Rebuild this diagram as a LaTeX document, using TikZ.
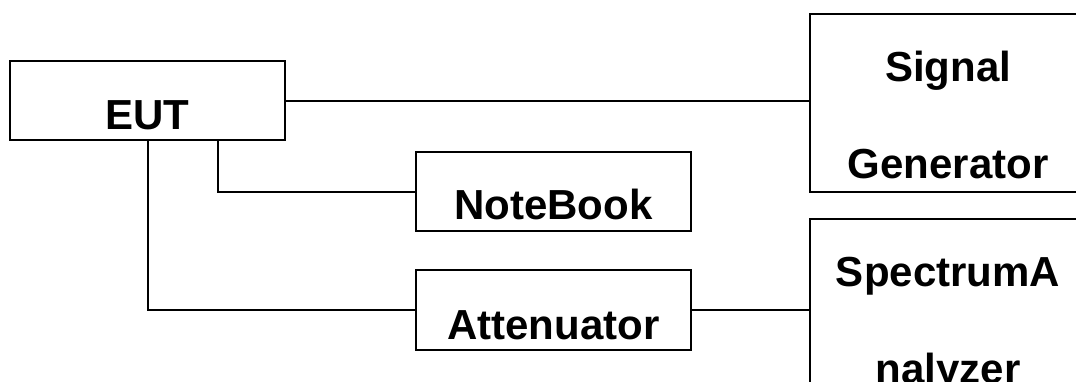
\documentclass[tikz,border=0pt]{standalone}
\usepackage{fontspec}
\setmainfont{Liberation Sans}
\usetikzlibrary{positioning}
\tikzset{
    unit/.style={draw, line width=2pt, rectangle, inner sep=0pt, anchor=north west,
        minimum width=275pt, text height=68pt, text depth=11pt,
        font=\fontsize{42}{97}\selectfont\bfseries},
    device/.style={unit, minimum width=276pt, align=center, text height=164pt, text depth=14pt},
    cable/.style={line width=2pt} }

\begin{document}
\begin{tikzpicture}[x=1pt, y=-1pt]
			\useasboundingbox (0,0) rectangle (1076,381);
			\clip (0,0) rectangle (1076,381);
			\node[unit] (EUT) at (9,60) {EUT};
			\node[unit, text height=67pt, text depth=12pt] (NB) at (415,151) {NoteBook};
			\node[unit, text height=69pt] (Att) at (415,269) {Attenuator};
			\node[device] (SG) at (809,13) {Signal\\Generator};
			\node[device] (SA) at (809,218) {SpectrumA\\nalyzer};
			% ----
			\draw[cable] (EUT.east) -- (EUT.east -| SG.west);
			\draw[cable] ([xshift=70pt]EUT.south) |- (NB.west);
			\draw[cable] (EUT.south) |- (Att.west);
			\draw[cable] (Att.east) -- (Att.east -| SA.west);
		\end{tikzpicture}
\end{document}
